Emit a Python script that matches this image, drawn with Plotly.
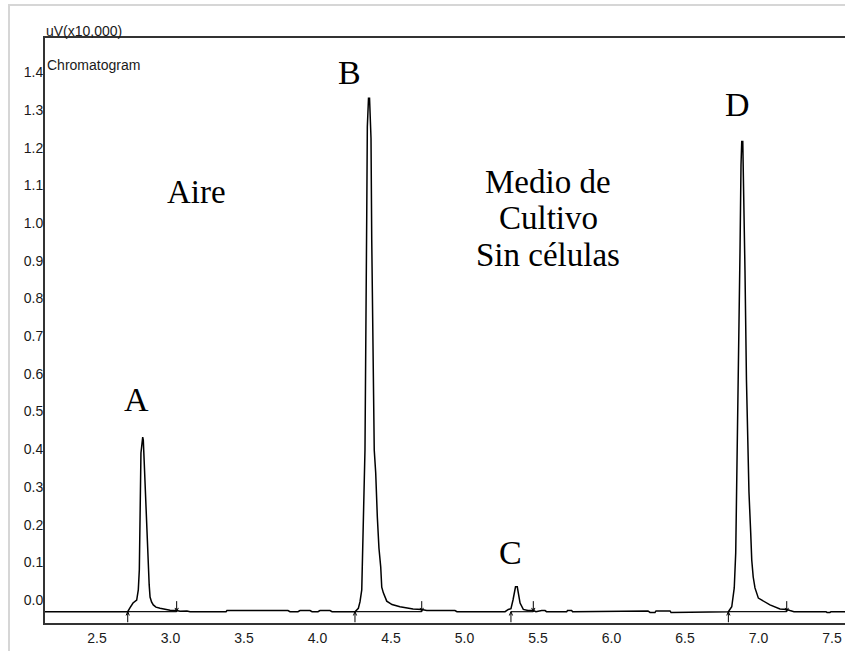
import plotly.graph_objects as go

# ---- chromatogram trace: retention time (min) and detector signal (uV x10,000) ----
lead_t = [2.10, 2.709]
lead_v = [-0.031, -0.031]

peak_a_t = [2.724, 2.745, 2.770, 2.781, 2.788, 2.793, 2.799, 2.811, 2.815, 2.822, 2.833,
            2.844, 2.850, 2.855, 2.861, 2.871, 2.883, 2.901, 2.929, 2.963, 2.997, 3.042, 3.065]
peak_a_v = [-0.021, -0.008, 0.000, 0.027, 0.080, 0.244, 0.390, 0.432, 0.424, 0.358, 0.239,
            0.141, 0.080, 0.040, 0.008, -0.005, -0.013, -0.019, -0.022, -0.025, -0.027, -0.028, -0.030]

gap_ab_t = [3.112, 3.133, 3.378, 3.384, 3.799, 3.813, 3.867, 3.881, 3.949, 3.963, 4.003, 4.017, 4.085, 4.099]
gap_ab_v = [-0.029, -0.031, -0.031, -0.028, -0.028, -0.031, -0.031, -0.028, -0.028, -0.031, -0.031, -0.028, -0.028, -0.031]

peak_b_t = [4.235, 4.255, 4.278, 4.289, 4.301, 4.307, 4.318, 4.323, 4.335, 4.339, 4.347, 4.354,
            4.364, 4.369, 4.386, 4.396, 4.407, 4.418, 4.430, 4.437, 4.448, 4.471, 4.507, 4.561,
            4.650, 4.709, 4.743]
peak_b_v = [-0.031, -0.031, -0.022, -0.005, 0.027, 0.138, 0.363, 0.398, 1.021, 1.255, 1.331, 1.331,
            1.225, 0.955, 0.398, 0.337, 0.220, 0.138, 0.088, 0.034, 0.019, -0.003, -0.012, -0.018,
            -0.024, -0.025, -0.028]

gap_bc_t = [4.935, 4.949]
gap_bc_v = [-0.028, -0.031]

peak_c_t = [5.276, 5.298, 5.316, 5.330, 5.340, 5.347, 5.359, 5.367, 5.378, 5.400, 5.432, 5.468, 5.486]
peak_c_v = [-0.031, -0.025, -0.023, 0.000, 0.027, 0.035, 0.035, 0.019, -0.008, -0.025, -0.028, -0.028, -0.031]

gap_cd_t = [5.525, 5.548, 5.558, 5.695, 5.701, 5.729, 5.735, 5.806, 5.813, 6.248, 6.262, 6.296,
            6.303, 6.398, 6.405, 6.780]
gap_cd_v = [-0.028, -0.028, -0.031, -0.031, -0.028, -0.028, -0.031, -0.031, -0.029, -0.029, -0.033, -0.033,
            -0.029, -0.029, -0.033, -0.033]

peak_d_t = [6.795, 6.818, 6.829, 6.835, 6.845, 6.852, 6.859, 6.874, 6.881, 6.886, 6.893, 6.897,
            6.908, 6.918, 6.927, 6.935, 6.947, 6.954, 6.964, 6.976, 6.999, 7.031, 7.078, 7.146,
            7.192, 7.214, 7.241]
peak_d_v = [-0.031, -0.018, 0.009, 0.032, 0.125, 0.318, 0.398, 0.920, 1.154, 1.216, 1.216, 1.088,
            0.875, 0.584, 0.398, 0.287, 0.178, 0.106, 0.061, 0.032, 0.005, -0.003, -0.013, -0.024,
            -0.025, -0.028, -0.031]

tail_t = [7.459, 7.466, 7.486, 7.493, 7.65]
tail_v = [-0.031, -0.033, -0.033, -0.031, -0.031]

# ---- integration marks: peak start / end times and baseline level ----
peak_start = [2.709, 4.255, 5.316, 6.795]
peak_end = [3.042, 4.709, 5.468, 7.192]
baseline_level = -0.031

# ---- peak labels and text ----
peak_names = ["A", "B", "C", "D"]
label_t = [2.772, 4.221, 5.310, 6.854]
label_v = [0.531, 1.398, 0.125, 1.313]

note_lines = ["Aire", "Medio de", "Cultivo", "Sin células"]
note_t = [3.180, 5.568, 5.568, 5.568]
note_v = [1.082, 1.109, 1.013, 0.915]

# ---- axes ----
x_ticks = [2.5, 3.0, 3.5, 4.0, 4.5, 5.0, 5.5, 6.0, 6.5, 7.0, 7.5]
x_ticktext = ["2.5", "3.0", "3.5", "4.0", "4.5", "5.0", "5.5", "6.0", "6.5", "7.0", "7.5"]
y_ticks = [0.0, 0.1, 0.2, 0.3, 0.4, 0.5, 0.6, 0.7, 0.8, 0.9, 1.0, 1.1, 1.2, 1.3, 1.4]
y_ticktext = ["0.0", "0.1", "0.2", "0.3", "0.4", "0.5", "0.6", "0.7", "0.8", "0.9",
              "1.0", "1.1", "1.2", "1.3", "1.4"]

time_min = lead_t + peak_a_t + gap_ab_t + peak_b_t + gap_bc_t + peak_c_t + gap_cd_t + peak_d_t + tail_t
signal = lead_v + peak_a_v + gap_ab_v + peak_b_v + gap_bc_v + peak_c_v + gap_cd_v + peak_d_v + tail_v

W, H = 845, 651
ML, MR, MT, MB = 45, 0, 38, 28
PW, PH = W - ML - MR, H - MT - MB

TICK_FONT = dict(family="Liberation Sans, Arial, sans-serif", size=14, color="#1a1a1a")
SERIF = "Liberation Serif, Times New Roman, serif"

# size of the start/end arrow glyphs, in axis units
ARROW_LEN = 0.028
HEAD_DX = 0.011
HEAD_DY = 0.010

fig = go.Figure()

# integration baselines under each peak
base_x, base_y = [], []
for s, e in zip(peak_start, peak_end):
    base_x += [s, e, None]
    base_y += [baseline_level, baseline_level, None]
fig.add_trace(go.Scatter(x=base_x, y=base_y, mode="lines",
                         line=dict(color="#111111", width=1.2), hoverinfo="skip"))

fig.add_trace(go.Scatter(x=time_min, y=signal, mode="lines",
                         line=dict(color="#000000", width=1.5), hoverinfo="skip"))

# peak start arrows (pointing up to the baseline) and end arrows (pointing down)
arr_x, arr_y = [], []
for s in peak_start:
    b = baseline_level
    arr_x += [s, s, None, s - HEAD_DX, s, s + HEAD_DX, None]
    arr_y += [b - ARROW_LEN, b, None, b - HEAD_DY, b, b - HEAD_DY, None]
for e in peak_end:
    b = baseline_level
    arr_x += [e, e, None, e - HEAD_DX, e, e + HEAD_DX, None]
    arr_y += [b + ARROW_LEN, b, None, b + HEAD_DY, b, b + HEAD_DY, None]
fig.add_trace(go.Scatter(x=arr_x, y=arr_y, mode="lines", cliponaxis=False,
                         line=dict(color="#000000", width=1), hoverinfo="skip"))

annotations = []
for name, t, v in zip(peak_names, label_t, label_v):
    annotations.append(dict(x=t, y=v, xref="x", yref="y", text=name, showarrow=False,
                            font=dict(family=SERIF, size=34, color="#000000")))
for txt, t, v in zip(note_lines, note_t, note_v):
    annotations.append(dict(x=t, y=v, xref="x", yref="y", text=txt, showarrow=False,
                            align="center",
                            font=dict(family=SERIF, size=33, color="#000000")))

annotations.append(dict(x=0, y=1, xref="paper", yref="paper", text="uV(x10,000)",
                        xanchor="left", yanchor="bottom", showarrow=False, xshift=-1, yshift=-3,
                        font=TICK_FONT))
annotations.append(dict(x=0, y=1, xref="paper", yref="paper", text="Chromatogram",
                        xanchor="left", yanchor="top", showarrow=False, xshift=0, yshift=-17,
                        font=TICK_FONT))

# light outer frame along the top and left of the window
fx = -(ML - 9) / PW
fy_top = (PH + MT - 5) / PH
fy_bot = -(MB + 2) / PH
shapes = [dict(type="path", xref="paper", yref="paper",
               path=f"M {fx} {fy_bot} L {fx} {fy_top} L 1.02 {fy_top}",
               line=dict(color="#d6d6d6", width=2))]

fig.update_layout(
    width=W, height=H,
    margin=dict(l=ML, r=MR, t=MT, b=MB),
    paper_bgcolor="white", plot_bgcolor="white",
    showlegend=False,
    annotations=annotations,
    shapes=shapes,
    xaxis=dict(range=[2.1463, 7.5884], tickvals=x_ticks, ticktext=x_ticktext,
               showgrid=False, zeroline=False, showline=True, mirror=True,
               linecolor="#333333", linewidth=2, ticks="", tickfont=TICK_FONT,
               ticklabelstandoff=1),
    yaxis=dict(range=[-0.061, 1.4907], tickvals=y_ticks, ticktext=y_ticktext,
               showgrid=False, zeroline=False, showline=True, mirror=False,
               linecolor="#333333", linewidth=2, ticks="", tickfont=TICK_FONT,
               ticklabelstandoff=-3),
)

fig.write_html("out.html")
